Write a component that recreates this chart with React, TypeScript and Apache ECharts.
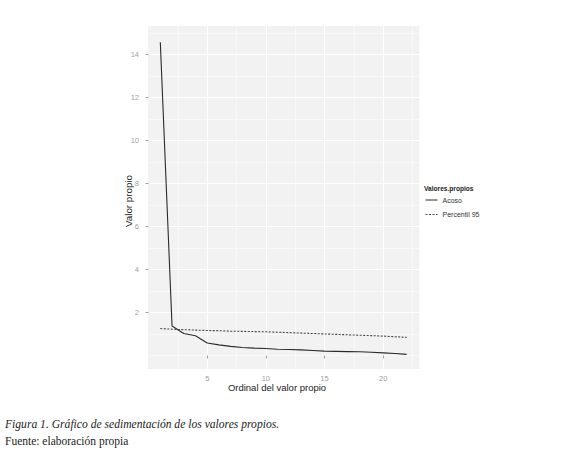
import React, { useEffect, useRef } from "react";
import * as echarts from "echarts";

const ordinals = [1, 2, 3, 4, 5, 6, 7, 8, 9, 10, 11, 12, 13, 14, 15, 16, 17, 18, 19, 20, 21, 22];
const acoso = [14.56, 1.37, 1.02, 0.92, 0.58, 0.49, 0.42, 0.37, 0.34, 0.32, 0.29, 0.28, 0.26, 0.23, 0.2, 0.19, 0.18, 0.17, 0.15, 0.12, 0.09, 0.05];
const percentil95 = [1.25, 1.22, 1.2, 1.18, 1.16, 1.15, 1.13, 1.12, 1.11, 1.1, 1.08, 1.06, 1.04, 1.02, 1.0, 0.98, 0.96, 0.94, 0.92, 0.9, 0.87, 0.84];
const yMajor = [2, 4, 6, 8, 10, 12, 14];
const yMinor = [0, 1, 3, 5, 7, 9, 11, 13, 15];
const xMajor = [5, 10, 15, 20];
const xMinor = [2.5, 7.5, 12.5, 17.5, 22.5];
const seriesNames = ["Acoso", "Percentil 95"];
const legendTitle = "Valores.propios";
const xTitle = "Ordinal del valor propio";
const yTitle = "Valor propio";
const caption1 = "Figura 1. Gráfico de sedimentación de los valores propios.";
const caption2 = "Fuente: elaboración propia";

export default function App() {
  const ref = useRef<HTMLDivElement>(null);
  useEffect(() => {
    if (!ref.current) return;
    const chart = echarts.init(ref.current, null, { renderer: "svg" });
    const sans = "Liberation Sans, Arial, sans-serif";
    const serif = "Liberation Serif, Times New Roman, serif";
    const grid = { left: 148, top: 26, width: 271.5, height: 343 };
    const yRange = { min: -0.63, max: 15.32 };
    const xRange = { min: -0.05, max: 23.1 };
    chart.setOption({
      animation: false,
      backgroundColor: "#ffffff",
      grid: { ...grid, show: true, backgroundColor: "#f2f2f2", borderWidth: 0 },
      xAxis: [
        {
          type: "value",
          ...xRange,
          axisLine: { show: false },
          axisTick: { show: true, length: 3, customValues: xMajor, lineStyle: { color: "#a0a0a0" } },
          axisLabel: { customValues: xMajor, fontSize: 7.5, color: "#a0a0a0", margin: 5, fontFamily: sans },
          splitLine: { show: true, lineStyle: { color: "#ffffff", width: 1 } },
          z: 3,
        },
        {
          type: "value",
          ...xRange,
          position: "bottom",
          axisLine: { show: false },
          axisTick: { show: false, customValues: xMinor },
          axisLabel: { show: false, customValues: xMinor },
          splitLine: { show: true, lineStyle: { color: "#f8f8f8", width: 1 } },
        },
      ],
      yAxis: [
        {
          type: "value",
          ...yRange,
          axisLine: { show: false },
          axisTick: { show: true, length: 3, customValues: yMajor, lineStyle: { color: "#a0a0a0" } },
          axisLabel: { customValues: yMajor, fontSize: 7.5, color: "#a0a0a0", margin: 9, fontFamily: sans },
          splitLine: { show: true, lineStyle: { color: "#ffffff", width: 1 } },
          z: 3,
        },
        {
          type: "value",
          ...yRange,
          position: "left",
          axisLine: { show: false },
          axisTick: { show: false, customValues: yMinor },
          axisLabel: { show: false, customValues: yMinor },
          splitLine: { show: true, lineStyle: { color: "#f8f8f8", width: 1 } },
        },
      ],
      legend: {
        data: seriesNames,
        orient: "vertical",
        left: 425,
        top: 196.5,
        padding: 0,
        itemWidth: 12,
        itemHeight: 8,
        itemGap: 7.5,
        itemStyle: { opacity: 0 },
        lineStyle: { width: 1 },
        textStyle: { fontSize: 7, color: "#333333", fontFamily: sans },
      },
      series: [
        {
          name: seriesNames[0],
          type: "line",
          data: ordinals.map((x, i) => [x, acoso[i]]),
          showSymbol: false,
          symbol: "none",
          lineStyle: { color: "#2a2a2a", width: 1.1, type: "solid" },
          itemStyle: { color: "#2a2a2a" },
          z: 5,
        },
        {
          name: seriesNames[1],
          type: "line",
          data: ordinals.map((x, i) => [x, percentil95[i]]),
          showSymbol: false,
          symbol: "none",
          lineStyle: { color: "#444444", width: 1.1, type: [2, 1.5] },
          itemStyle: { color: "#444444" },
          z: 5,
        },
      ],
      graphic: [
        {
          type: "text",
          left: 424,
          top: 185,
          style: { text: legendTitle, font: `bold 6.6px ${sans}`, fill: "#222222" },
        },
        {
          type: "text",
          x: 277,
          y: 387,
          style: { text: xTitle, font: `9.5px ${sans}`, fill: "#222222", textAlign: "center", textVerticalAlign: "middle" },
        },
        {
          type: "text",
          x: 128,
          y: 201,
          rotation: Math.PI / 2,
          style: { text: yTitle, font: `9.8px ${sans}`, fill: "#222222", textAlign: "center", textVerticalAlign: "middle" },
        },
        {
          type: "text",
          x: 5,
          y: 424,
          style: { text: caption1, font: `italic 11.6px ${serif}`, fill: "#222222", textVerticalAlign: "middle" },
        },
        {
          type: "text",
          x: 5,
          y: 441,
          style: { text: caption2, font: `11.5px ${serif}`, fill: "#222222", textVerticalAlign: "middle" },
        },
      ],
    });
    return () => chart.dispose();
  }, []);
  return <div ref={ref} style={{ position: "fixed", left: 0, top: 0, width: 580, height: 451 }} />;
}
